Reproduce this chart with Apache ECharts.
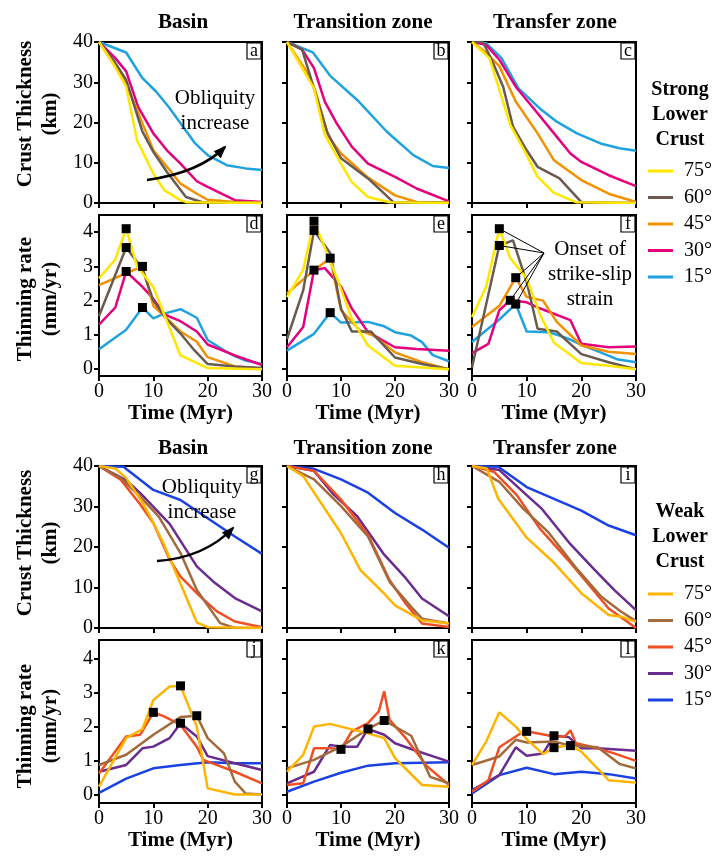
<!DOCTYPE html>
<html>
<head>
<meta charset="utf-8">
<title>Crust thinning and obliquity</title>
<script src="https://cdn.jsdelivr.net/npm/echarts@6/dist/echarts.min.js"></script>
<style>
  html, body { margin: 0; padding: 0; background: #fff; }
  #chart { width: 720px; height: 862px; }
</style>
</head>
<body>
<div id="chart"></div>
<script>
// ---- categories, labels, colours ----
const zoneTitles = ['Basin', 'Transition zone', 'Transfer zone'];
const obliquityLabels = ['75°', '60°', '45°', '30°', '15°'];
const strongColors = ['#FFE600', '#6B5A4F', '#F39200', '#E5007E', '#1FA2DE'];
const weakColors = ['#FFB400', '#A36B3C', '#EF4F22', '#6A2C8F', '#1A42E2'];
const panelLetters = ['a', 'b', 'c', 'd', 'e', 'f', 'g', 'h', 'i', 'j', 'k', 'l'];
const timeTicks = [0, 10, 20, 30];
const thicknessTicks = [0, 10, 20, 30, 40];
const rateTicks = [0, 1, 2, 3, 4];

// ---- strong lower crust: crust thickness (km) vs time (Myr) ----
const a75 = [[0,40],[2.6,34.7],[5,28.9],[7,15.6],[10,7.3],[12,3.2],[15,0.7],[16,0.2],[30,0]];
const a60 = [[0,40],[2.6,35.6],[5,30.6],[8,17.7],[10,12.7],[12.5,7.7],[16,1.5],[19,0.2],[30,0]];
const a45 = [[0,40],[2.6,34.7],[5,29.8],[7.5,21.4],[10,13.1],[12.5,9],[15,4.8],[18,2.3],[20,0.8],[25,0.25],[30,0.1]];
const a30 = [[0,40],[3,36],[5,32.7],[7.2,23.9],[10,17.3],[12.5,13.1],[15,9.8],[18,5.4],[20,4],[25,0.7],[30,0.25]];
const a15 = [[0,40],[5,37.4],[8,31],[10.5,27.7],[12.8,23.9],[15,19.8],[17.7,14.8],[20,11.9],[23.5,9.4],[27,8.6],[30,8.2]];

const b75 = [[0,40],[3,33.1],[5,28.5],[7,16.9],[10,9.8],[12,5.2],[15,1.5],[19,0.2],[30,0]];
const b60 = [[0,40],[2.8,38.1],[4.3,31.5],[7.4,17.7],[10,11.1],[15,6.1],[19.7,0.2],[30,0]];
const b45 = [[0,40],[3.4,33.1],[5.2,28.1],[7.7,16.5],[10,12.3],[15,6.3],[20,1.9],[24,0.25],[30,0.1]];
const b30 = [[0,40],[2.8,38.1],[5,33.5],[7,25.2],[9.2,19.8],[12,14],[15,9.8],[20,6.5],[24,3.6],[30,0.4]];
const b15 = [[0,40],[4.8,37.4],[8,31.6],[13,25.6],[18.5,17.7],[23.4,11.9],[27,9.2],[30,8.7]];

const c75 = [[0,40],[3.2,36],[7,19.4],[9.7,12.7],[12,6.5],[15,2.5],[19,0.2],[30,0]];
const c60 = [[0,40],[2,40],[3.6,35.6],[5.7,28.9],[7.5,19],[10,13.1],[12,9],[16,6.1],[20,0.2],[30,0]];
const c45 = [[0,40],[2.6,37.3],[5,34],[8,25.2],[12,17.3],[15,10.6],[20,5.7],[25,2.3],[30,0.25]];
const c30 = [[0,40],[2.6,39.3],[5,35.6],[8,28.9],[12,22.3],[15,17.3],[18,12.3],[20,10.2],[25,6.9],[30,4.2]];
const c15 = [[0,40],[2.6,39.7],[5.4,36],[8.5,28.5],[12.4,23.5],[15.5,20.2],[19.2,17.3],[23.5,14.8],[27,13.6],[30,13]];

// ---- strong lower crust: thinning rate (mm/yr) vs time (Myr) ----
const d75 = [[0,2.65],[3,3.2],[5,4.1],[7,3.0],[10,2.4],[15,0.4],[20,0.03],[30,0]];
const d60 = [[0,1.55],[5,3.55],[8,2.92],[10,2.0],[12.5,1.45],[15,1.04],[17.5,0.56],[20,0.15],[25,0.08],[30,0.03]];
const d45 = [[0,2.45],[5,2.8],[8,3.0],[10,1.85],[12,1.55],[15,1.1],[18,0.8],[20,0.35],[25,0.08],[30,0.02]];
const d30 = [[0,1.3],[3,1.8],[5,2.85],[8,2.4],[10,2.05],[12,1.6],[15,1.4],[18,1.1],[20,0.72],[25,0.4],[30,0.12]];
const d15 = [[0,0.58],[5,1.15],[8,1.8],[10,1.48],[12,1.62],[15,1.75],[18,1.5],[20,0.85],[23,0.55],[25,0.38],[27,0.25],[30,0.15]];
const dOnset = [[5,4.1],[5,3.55],[5,2.85],[8,3.0],[8,1.8]];

const e75 = [[0,2.1],[3,2.9],[5,4.32],[7,3.54],[9.4,2.6],[12,1.47],[15,0.69],[20,0.1],[30,0]];
const e60 = [[0,0.88],[3,2.3],[5,4.05],[8,3.39],[10,1.77],[12,1.1],[15.5,1.1],[20,0.34],[25,0.15],[30,0]];
const e45 = [[0,2.21],[5,2.89],[8,3.24],[10,1.72],[13.5,1.13],[16,0.98],[20,0.49],[25,0.2],[30,0]];
const e30 = [[0,0.64],[3,1.23],[5,2.89],[7,2.95],[10,2.41],[12,1.77],[15,1.08],[20,0.64],[24,0.59],[30,0.54]];
const e15 = [[0,0.54],[5,1.03],[8,1.65],[10,1.36],[15,1.38],[18,1.25],[20,1.08],[23,0.98],[25,0.79],[27,0.41],[30,0.23]];
const eOnset = [[5,4.32],[5,4.05],[8,3.24],[5,2.89],[8,1.65]];

const f75 = [[0,1.52],[2.6,2.41],[5,4.1],[7,3.24],[10,2.65],[12.5,1.57],[15,0.77],[20,0.18],[25,0.1],[30,0]];
const f60 = [[0,0.05],[5,3.61],[7.5,3.76],[10,2.55],[12,1.18],[15.5,1.1],[20,0.44],[25,0.2],[30,0]];
const f45 = [[0,1.23],[5,1.85],[8,2.67],[10,2.11],[13,2.0],[15.5,1.38],[20,0.69],[25,0.51],[30,0.44]];
const f30 = [[0,0.47],[3,0.74],[5,1.72],[7,2.01],[10,1.95],[12.5,1.77],[18,1.43],[20,0.74],[25,0.64],[30,0.66]];
const f15 = [[0,0.79],[5,1.45],[8,1.9],[10,1.1],[14,1.08],[17.5,0.9],[20,0.71],[23.5,0.49],[26.5,0.29],[30,0.2]];
const fOnset = [[5,4.1],[5,3.61],[8,2.67],[7,2.01],[8,1.9]];

// ---- weak lower crust: crust thickness (km) vs time (Myr) ----
const g75 = [[0,40],[3,39.4],[5,37],[8,31],[10,26],[12,20.5],[13.4,16],[18,1.4],[20,0.2],[30,0]];
const g60 = [[0,40],[4,37],[7.6,32.4],[11,27.5],[15,18.5],[18,9.4],[22.3,1.2],[25,0],[30,0]];
const g45 = [[0,40],[4,36.6],[7.6,30.5],[10,25.9],[13,16.9],[15,12.7],[18.6,7.8],[21.7,4.1],[25,1.6],[30,0.2]];
const g30 = [[0,40],[5,36.5],[7.6,33.3],[13,25.7],[18,15.2],[21,11.5],[25,7.4],[30,4.1]];
const g15 = [[0,40],[4.5,39.8],[10,34.1],[15,31.6],[20,27.1],[25,22.6],[30,18.3]];

const h75 = [[0,40],[3,37.5],[10,23.4],[13.6,14.3],[18,8.5],[20,5.6],[25,1.9],[30,1.1]];
const h60 = [[0,40],[5,36.7],[10,30.1],[15,22.6],[19,11.4],[23,5.2],[25,2.3],[30,1.1]];
const h45 = [[0,40],[5,38.8],[10,31.7],[15,23],[19,11.8],[22,6],[25,1.1],[30,0.25]];
const h30 = [[0,40],[5,38.8],[8.6,33],[13,27.6],[18,18.1],[22,12.3],[25,7.3],[30,2.9]];
const h15 = [[0,40],[5,39.3],[10,36.7],[15,33.4],[20,28.4],[25,24.3],[30,19.8]];

const i75 = [[0,40],[2.7,39.4],[4.8,31.9],[10,22.3],[15,16.1],[20,8.6],[25,3.2],[27.3,2.8],[30,1.5]];
const i60 = [[0,40],[5,36.1],[9.4,29.4],[14,23.6],[19.3,14.4],[23.6,7.8],[27.3,4],[30,1.7]];
const i45 = [[0,40],[4,38.6],[8.2,32.8],[12.5,24.4],[17.5,16.9],[20.6,11.9],[25,4.8],[30,0]];
const i30 = [[0,40],[5,39],[10,32.8],[12.8,29.4],[18,20.7],[22.4,14.4],[26,9.4],[30,4.4]];
const i15 = [[0,40],[4.8,39.8],[10,34.8],[15,31.9],[20,29],[25,25.3],[30,22.9]];

// ---- weak lower crust: thinning rate (mm/yr) vs time (Myr) ----
const j75 = [[0,0.23],[5,1.66],[8,1.93],[10,2.78],[13,3.18],[15,3.2],[18,2.0],[20,0.18],[25,0],[30,0]];
const j60 = [[0,0.87],[5,1.17],[10,1.76],[15,2.28],[18,2.32],[20,1.66],[23,1.21],[25,0.38],[27,0.03],[30,0]];
const j45 = [[0,0.62],[5,1.71],[7.6,1.76],[10,2.42],[12,2.3],[15,2.05],[18,1.41],[19.2,1.02],[25,0.67],[30,0.33]];
const j30 = [[0,0.67],[5,0.87],[8,1.36],[10,1.41],[13,1.66],[15,2.1],[18,1.71],[20,1.13],[25,0.92],[30,0.72]];
const j15 = [[0,0.05],[5,0.47],[10,0.77],[15,0.87],[20,0.95],[25,0.92],[30,0.92]];
const jOnset = [[15,3.2],[10,2.42],[18,2.32],[15,2.1]];

const k75 = [[0,0.67],[3,1.17],[5,2.0],[8,2.08],[10,2.0],[15,1.8],[18,1.66],[20,1.07],[25,0.28],[30,0.23]];
const k60 = [[0,0.77],[5,1.02],[10,1.41],[15,1.93],[18,2.18],[23,1.73],[26.5,0.52],[30,0.33]];
const k45 = [[0,0.28],[3,0.33],[5,1.36],[8,1.36],[10,1.33],[12,1.86],[15,2.1],[17,2.45],[18,3.04],[19,2.2],[22,1.66],[26,0.82],[30,0.28]];
const k30 = [[0,0.33],[5,0.67],[8,1.46],[10,1.41],[13,1.41],[15,1.93],[18,1.76],[20,1.51],[23.5,1.31],[30,0.97]];
const k15 = [[0,0.08],[5,0.38],[10,0.64],[15,0.85],[20,0.92],[30,0.95]];
const kOnset = [[10,1.33],[15,1.93],[18,2.18]];

const l75 = [[0,0.87],[2.6,1.56],[5,2.42],[8,2.0],[10,1.63],[13,1.19],[15,1.38],[18,1.46],[20,1.26],[25,0.42],[30,0.35]];
const l60 = [[0,0.87],[5,1.12],[8,1.61],[10,1.53],[15,1.56],[18,1.44],[23,1.39],[27,0.9],[30,0.77]];
const l45 = [[0,0.08],[3,0.42],[5,1.39],[9,1.81],[10,1.86],[15,1.71],[17,1.71],[18,1.89],[19,1.51],[23,1.36],[26,1.21],[30,0.99]];
const l30 = [[0,0.13],[5,0.57],[8,1.39],[10,1.14],[13,1.21],[15,1.73],[17.7,1.69],[20,1.36],[23,1.36],[30,1.29]];
const l15 = [[0,0.03],[5,0.57],[10,0.79],[15,0.6],[20,0.67],[25,0.6],[30,0.47]];
const lOnset = [[10,1.86],[15,1.73],[15,1.38],[18,1.44]];

// series per panel, ordered 75°, 60°, 45°, 30°, 15°
const panelSeries = [
  [a75, a60, a45, a30, a15], [b75, b60, b45, b30, b15], [c75, c60, c45, c30, c15],
  [d75, d60, d45, d30, d15], [e75, e60, e45, e30, e15], [f75, f60, f45, f30, f15],
  [g75, g60, g45, g30, g15], [h75, h60, h45, h30, h15], [i75, i60, i45, i30, i15],
  [j75, j60, j45, j30, j15], [k75, k60, k45, k30, k15], [l75, l60, l45, l30, l15]
];
const panelOnsets = [null, null, null, dOnset, eOnset, fOnset, null, null, null, jOnset, kOnset, lOnset];

// ---- layout ----
const FONT = "'Liberation Serif', 'Times New Roman', serif";
const colLeft = [99, 287, 472];
const colWidth = [163, 162, 164];
const rowTop = [42, 215, 466, 640];
const rowHeight = [161, 161, 162, 163];
const rowIsRate = [false, true, false, true];
const rateExtent = [null, [-0.2, 4.5], null, [-0.25, 4.55]];

const grids = [], xAxes = [], yAxes = [], series = [];
for (let i = 0; i < 12; i++) {
  const r = Math.floor(i / 3), c = i % 3;
  const isRate = rowIsRate[r];
  const colors = r < 2 ? strongColors : weakColors;
  grids.push({
    left: colLeft[c], top: rowTop[r], width: colWidth[c], height: rowHeight[r],
    show: true, borderColor: '#000', borderWidth: 2, backgroundColor: 'transparent',
    containLabel: false, outerBoundsMode: 'none'
  });
  xAxes.push({
    type: 'value', gridIndex: i, min: 0, max: 30, interval: 10,
    axisLine: { show: true, onZero: false, lineStyle: { color: '#000', width: 2 } },
    axisTick: { show: true, inside: false, length: 5, lineStyle: { color: '#000', width: 2 } },
    axisLabel: { show: isRate, color: '#000', fontFamily: FONT, fontSize: 20, margin: 6,
                 showMinLabel: true, showMaxLabel: true, hideOverlap: false },
    splitLine: { show: false },
    name: isRate ? 'Time (Myr)' : '',
    nameLocation: 'middle', nameGap: 26,
    nameTextStyle: { color: '#000', fontFamily: FONT, fontSize: 21, fontWeight: 'bold' }
  });
  const yAxis = {
    type: 'value', gridIndex: i,
    axisLine: { show: true, onZero: false, lineStyle: { color: '#000', width: 2 } },
    axisTick: { show: true, inside: false, length: 5, lineStyle: { color: '#000', width: 2 } },
    axisLabel: { show: c === 0, color: '#000', fontFamily: FONT, fontSize: 20, margin: 6,
                 showMinLabel: true, showMaxLabel: true, hideOverlap: false },
    splitLine: { show: false }
  };
  if (isRate) {
    yAxis.min = rateExtent[r][0];
    yAxis.max = rateExtent[r][1];
    yAxis.axisTick.customValues = rateTicks;
    yAxis.axisLabel.customValues = rateTicks;
  } else {
    yAxis.min = 0;
    yAxis.max = 40;
    yAxis.interval = 10;
  }
  yAxes.push(yAxis);

  // draw 15° first so the high-obliquity curves sit on top
  for (let s = 4; s >= 0; s--) {
    series.push({
      type: 'line', name: obliquityLabels[s], xAxisIndex: i, yAxisIndex: i,
      data: panelSeries[i][s], symbol: 'none', showSymbol: false, smooth: false,
      clip: true, z: 3,
      lineStyle: { color: colors[s], width: 2.5 }, itemStyle: { color: colors[s] }
    });
  }
  if (panelOnsets[i]) {
    series.push({
      type: 'scatter', xAxisIndex: i, yAxisIndex: i, data: panelOnsets[i],
      symbol: 'rect', symbolSize: 9, itemStyle: { color: '#000', opacity: 1 }, z: 6
    });
  }
}

const chart = echarts.init(document.getElementById('chart'));
chart.setOption({
  animation: false,
  backgroundColor: '#fff',
  grid: grids, xAxis: xAxes, yAxis: yAxes, series: series
});

// ---- text, panel letters, legends and annotations ----
function label(x, y, text, size, bold, opts) {
  opts = opts || {};
  return {
    type: 'text', x: x, y: y, rotation: opts.rotation || 0, z: 100,
    style: {
      text: text, fill: '#000', fontFamily: FONT, fontSize: size,
      fontWeight: bold ? 'bold' : 'normal',
      align: opts.align || 'center', verticalAlign: 'middle',
      lineHeight: opts.lineHeight || Math.round(size * 1.2)
    }
  };
}

const graphics = [];

// column titles
const titleX = [183, 363, 555];
for (let c = 0; c < 3; c++) {
  graphics.push(label(titleX[c], 23, zoneTitles[c], 21, true));
  graphics.push(label(titleX[c], 449, zoneTitles[c], 21, true));
}

// y-axis titles, reading bottom to top
graphics.push(label(38, 114, 'Crust Thickness\n(km)', 21, true, { rotation: Math.PI / 2, lineHeight: 25 }));
graphics.push(label(38, 299, 'Thinning rate\n(mm/yr)', 21, true, { rotation: Math.PI / 2, lineHeight: 25 }));
graphics.push(label(38, 543, 'Crust Thickness\n(km)', 21, true, { rotation: Math.PI / 2, lineHeight: 25 }));
graphics.push(label(38, 726, 'Thinning rate\n(mm/yr)', 21, true, { rotation: Math.PI / 2, lineHeight: 25 }));

// boxed panel letters in the top-right corners
for (let i = 0; i < 12; i++) {
  const r = Math.floor(i / 3), c = i % 3;
  const right = colLeft[c] + colWidth[c];
  const top = rowTop[r];
  graphics.push({
    type: 'rect', z: 90,
    shape: { x: right - 15, y: top + 1, width: 14, height: 16 },
    style: { fill: '#fff', stroke: '#000', lineWidth: 1.2 }
  });
  graphics.push(label(right - 8, top + 9, panelLetters[i], 18, false));
}

// legends
function legendBlock(title, titleY, itemY0, colors) {
  graphics.push(label(680, titleY, title, 20, true, { lineHeight: 25 }));
  for (let s = 0; s < 5; s++) {
    const y = itemY0 + s * 26.5;
    graphics.push({
      type: 'line', z: 100,
      shape: { x1: 648, y1: y, x2: 673, y2: y },
      style: { stroke: colors[s], lineWidth: 3 }
    });
    graphics.push(label(684, y, obliquityLabels[s], 20, false, { align: 'left' }));
  }
}
legendBlock('Strong\nLower\nCrust', 115, 171, strongColors);
legendBlock('Weak\nLower\nCrust', 537, 594, weakColors);

// curved "obliquity increase" arrows
function curvedArrow(p0, cp, p1) {
  graphics.push({
    type: 'bezierCurve', z: 95,
    shape: { x1: p0[0], y1: p0[1], cpx1: cp[0], cpy1: cp[1], x2: p1[0], y2: p1[1] },
    style: { stroke: '#000', lineWidth: 2.5, fill: null }
  });
  const dx = p1[0] - cp[0], dy = p1[1] - cp[1];
  const len = Math.sqrt(dx * dx + dy * dy);
  const ux = dx / len, uy = dy / len;
  const bx = p1[0] - ux * 11, by = p1[1] - uy * 11;
  graphics.push({
    type: 'polygon', z: 95,
    shape: { points: [[p1[0] + ux * 2, p1[1] + uy * 2], [bx - uy * 5, by + ux * 5], [bx + uy * 5, by - ux * 5]] },
    style: { fill: '#000' }
  });
}
curvedArrow([147, 180], [200, 172.5], [225, 147]);
curvedArrow([157, 561], [205, 557.5], [233, 528]);
graphics.push(label(215, 110.5, 'Obliquity\nincrease', 21, false, { lineHeight: 25 }));
graphics.push(label(202, 499.5, 'Obliquity\nincrease', 21, false, { lineHeight: 25 }));

// "onset of strike-slip strain" leader lines to the panel f markers
const leaderFrom = [544, 253];
fOnset.forEach(function (pt) {
  const px = chart.convertToPixel({ gridIndex: 5 }, pt);
  graphics.push({
    type: 'line', z: 4,
    shape: { x1: leaderFrom[0], y1: leaderFrom[1], x2: px[0], y2: px[1] },
    style: { stroke: '#000', lineWidth: 1 }
  });
});
graphics.push(label(590, 274, 'Onset of\nstrike-slip\nstrain', 21, false, { lineHeight: 25 }));

chart.setOption({ graphic: { elements: graphics } });
</script>
</body>
</html>
